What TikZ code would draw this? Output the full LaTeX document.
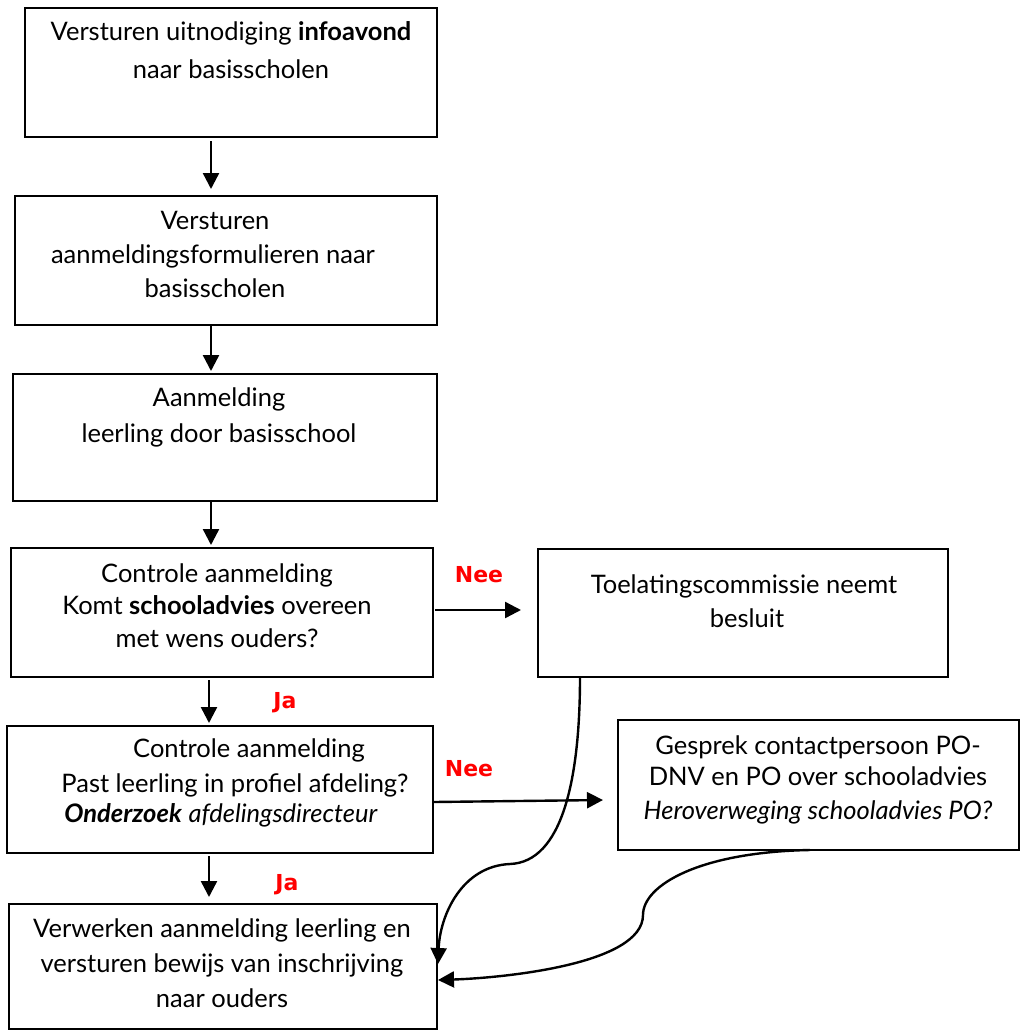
\documentclass[tikz,border=0pt]{standalone}
\usepackage{fontspec}
\setmainfont{Lato}
\newfontfamily\lblfont{DejaVu Sans}
\usetikzlibrary{arrows.meta}
\definecolor{lblred}{RGB}{255,0,0}
\begin{document}
\begin{tikzpicture}[x=1pt,y=-1pt,
  box/.style={draw,line width=2pt,rectangle,inner sep=0pt},
  txt/.style={font=\fontsize{25.5}{34}\selectfont,align=center,inner sep=0pt,anchor=base},
  lbl/.style={font=\lblfont\bfseries\fontsize{22}{26}\selectfont,text=lblred,inner sep=0pt,anchor=base},
  arr/.style={line width=2.4pt,-{Triangle[length=16pt,width=16pt]}}]
\useasboundingbox (0,0) rectangle (1020,1031);
% boxes
\node[box,minimum width=412pt,minimum height=129pt] (b1) at (231,72.5) {};
\node[box,minimum width=422pt,minimum height=129pt] (b2) at (226,260.5) {};
\node[box,minimum width=424pt,minimum height=127pt] (b3) at (225,437.5) {};
\node[box,minimum width=422pt,minimum height=129pt] (b4) at (222,612.5) {};
\node[box,minimum width=410pt,minimum height=128pt] (b5) at (743,613) {};
\node[box,minimum width=426pt,minimum height=127pt] (b6) at (220,789.5) {};
\node[box,minimum width=401pt,minimum height=130pt] (b7) at (818.5,785) {};
\node[box,minimum width=428pt,minimum height=125pt] (b8) at (223,966.5) {};
% texts
\node[txt] (t1a) at (231,40) {Versturen uitnodiging \textbf{infoavond}};
\node[txt] (t1b) at (231,78) {naar basisscholen};
\node[txt] (t2a) at (215,229) {Versturen};
\node[txt] (t2b) at (213,263) {aanmeldingsformulieren naar};
\node[txt] (t2c) at (215,297) {basisscholen};
\node[txt] (t3a) at (219,406) {Aanmelding};
\node[txt] (t3b) at (219,442) {leerling door basisschool};
\node[txt] (t4a) at (217,582) {Controle aanmelding};
\node[txt] (t4b) at (217,614) {Komt \textbf{schooladvies} overeen};
\node[txt] (t4c) at (217,647) {met wens ouders?};
\node[txt] (t5a) at (744,593) {Toelatingscommissie neemt};
\node[txt] (t5b) at (747,627) {besluit};
\node[txt] (t6a) at (249,757) {Controle aanmelding};
\node[txt] (t6b) at (235,792) {Past leerling in profiel afdeling?};
\node[txt] (t6c) at (221,822) {\textbf{\textit{Onderzoek}} \textit{afdelingsdirecteur}};
\node[txt] (t7a) at (818,754) {Gesprek contactpersoon PO-};
\node[txt] (t7b) at (818,785) {DNV en PO over schooladvies};
\node[txt] (t7c) at (818,819) {\textit{Heroverweging schooladvies PO?}};
\node[txt] (t8a) at (222,937) {Verwerken aanmelding leerling en};
\node[txt] (t8b) at (222,972) {versturen bewijs van inschrijving};
\node[txt] (t8c) at (222,1007) {naar ouders};
% labels
\node[lbl] (n1) at (479,582) {Nee};
\node[lbl] (n2) at (469,776) {Nee};
\node[lbl] (j1) at (285,708) {Ja};
\node[lbl] (j2) at (287,890) {Ja};
% connectors
\draw[arr] ([yshift=-3pt]b1.south -| 211,0) -- ([yshift=6pt]b2.north -| 211,0);
\draw[arr] (b2.south -| 211,0) -- ([yshift=2pt]b3.north -| 211,0);
\draw[arr] (b3.south -| 211,0) -- ([yshift=2pt]b4.north -| 211,0);
\draw[arr] ([yshift=-2pt]b4.south -| 209,0) -- ([yshift=2pt]b6.north -| 209,0);
\draw[arr] ([yshift=-2pt]b6.south -| 209,0) -- ([yshift=6pt]b8.north -| 209,0);
\coordinate (c1s) at (435,610);
\coordinate (c1e) at (521,610);
\draw[arr] (c1s) -- (c1e);
\draw[arr] (b6.east |- 0,802) -- ([xshift=-14pt]b7.west |- 0,800);
\draw[arr] (580,677) .. controls (580,780) and (562,862) .. (510,864)
  .. controls (462,866) and (440,915) .. (b8.east |- 0,964);
\draw[arr] (810,850) .. controls (700,852) and (643,885) .. (643,915)
  .. controls (643,965) and (500,978) .. (b8.east |- 0,980);
\end{tikzpicture}
\end{document}
